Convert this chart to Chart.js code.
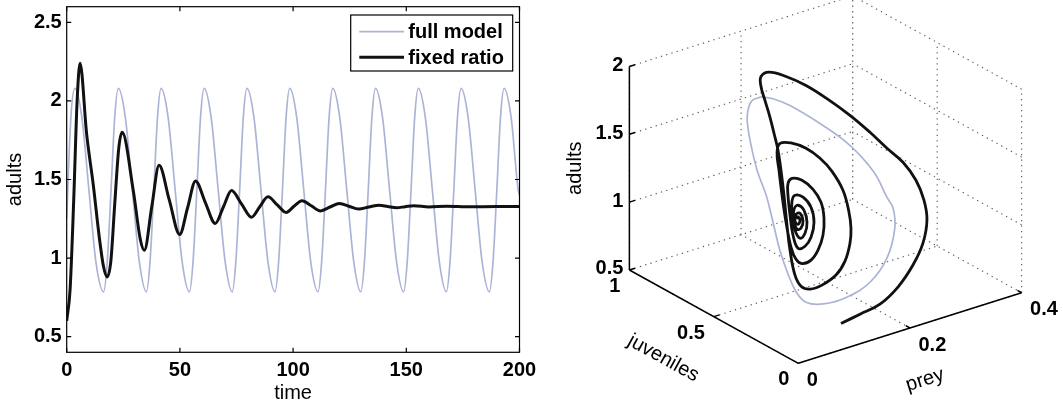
<!DOCTYPE html>
<html>
<head>
<meta charset="utf-8">
<script src="https://cdn.jsdelivr.net/npm/chart.js@4.4.1/dist/chart.umd.min.js"></script>
<style>
  html, body { margin: 0; padding: 0; background: #fff; }
  #wrap { position: relative; width: 1063px; height: 407px; overflow: hidden; }
  canvas { position: absolute; top: 0; }
  #timeChart { left: 0; }
  #phaseChart { left: 545px; }
</style>
</head>
<body>
<div id="wrap">
  <canvas id="timeChart" width="545" height="407"></canvas>
  <canvas id="phaseChart" width="518" height="407"></canvas>
</div>
<script>
// --- left panel: adults over time ---
const timeTicks = [0, 50, 100, 150, 200];
const adultTicks = [0.5, 1, 1.5, 2, 2.5];

const fullTime = [0, 0.9, 2.0, 3.6, 6.7, 9.8, 12.9,
  16.3, 17.9, 19.6, 21.2, 22.8, 25.9, 29.0, 32.1,
  35.2, 36.8, 38.5, 40.1, 41.7, 44.8, 47.9, 51.0,
  54.2, 55.8, 57.5, 59.1, 60.7, 63.8, 66.9, 70.0,
  73.1, 74.7, 76.4, 78.0, 79.6, 82.7, 85.8, 88.9,
  92.0, 93.6, 95.3, 96.9, 98.5, 101.6, 104.7, 107.8,
  111.0, 112.6, 114.3, 115.9, 117.5, 120.6, 123.7, 126.8,
  129.9, 131.5, 133.2, 134.8, 136.4, 139.5, 142.6, 145.7,
  148.8, 150.4, 152.1, 153.7, 155.3, 158.4, 161.5, 164.6,
  167.7, 169.3, 171.0, 172.6, 174.2, 177.3, 180.4, 183.5,
  186.7, 188.3, 190.0, 191.6, 193.2, 196.3, 199.4, 200];
const fullAdults = [1.25, 1.60, 1.93, 2.08, 1.895, 1.435, 0.975,
  0.785, 0.975, 1.435, 1.895, 2.08, 1.895, 1.435, 0.975,
  0.785, 0.975, 1.435, 1.895, 2.08, 1.895, 1.435, 0.975,
  0.785, 0.975, 1.435, 1.895, 2.08, 1.895, 1.435, 0.975,
  0.785, 0.975, 1.435, 1.895, 2.08, 1.895, 1.435, 0.975,
  0.785, 0.975, 1.435, 1.895, 2.08, 1.895, 1.435, 0.975,
  0.785, 0.975, 1.435, 1.895, 2.08, 1.895, 1.435, 0.975,
  0.785, 0.975, 1.435, 1.895, 2.08, 1.895, 1.435, 0.975,
  0.785, 0.975, 1.435, 1.895, 2.08, 1.895, 1.435, 0.975,
  0.785, 0.975, 1.435, 1.895, 2.08, 1.895, 1.435, 0.975,
  0.785, 0.975, 1.435, 1.895, 2.08, 1.895, 1.435, 1.40];

const fixedTime = [0, 1.5, 3.1, 4.6, 5.9, 8.8, 11.7, 14.5, 16.2, 17.9,
  19.5, 21.2, 23.0, 24.5, 29.4, 32.5, 34.3, 37.6, 40.8, 45.3,
  49.9, 53.4, 56.9, 61.2, 65.6, 69.2, 72.8, 77.2, 81.6, 85.2,
  88.9, 92.9, 96.9, 100.4, 103.9, 108.0, 112.1, 116.3, 120.5, 124.7,
  128.9, 133.5, 138.0, 141.8, 145.7, 149.5, 153.3, 160, 168, 178, 190, 200];
const fixedAdults = [0.60, 0.80, 1.37, 2.00, 2.24, 1.79, 1.47, 1.12, 0.95, 0.88,
  0.98, 1.34, 1.70, 1.80, 1.43, 1.12, 1.05, 1.33, 1.59, 1.37,
  1.15, 1.32, 1.49, 1.355, 1.22, 1.325, 1.43, 1.345, 1.26, 1.325,
  1.39, 1.34, 1.29, 1.33, 1.365, 1.333, 1.30, 1.325, 1.348, 1.33,
  1.312, 1.325, 1.336, 1.328, 1.32, 1.327, 1.333, 1.325, 1.33, 1.326, 1.328, 1.328];

// --- right panel: phase space (prey, juveniles, adults) ---
const preyTicks = [0, 0.2, 0.4];
const juvTicks = [0, 0.5, 1];
const adultTicks3d = [0.5, 1, 1.5, 2];

const cyclePrey = [0.065, 0.067, 0.078, 0.092, 0.105, 0.109, 0.109, 0.100, 0.088, 0.072, 0.056, 0.053,
  0.075, 0.111, 0.150, 0.180, 0.197, 0.200, 0.195, 0.184, 0.159, 0.129, 0.094, 0.077, 0.065];
const cycleJuv = [0.44, 0.50, 0.56, 0.60, 0.62, 0.60, 0.55, 0.48, 0.40, 0.30, 0.20, 0.13,
  0.10, 0.08, 0.07, 0.07, 0.08, 0.10, 0.12, 0.16, 0.22, 0.28, 0.36, 0.41, 0.44];
const cycleAdults = [2.076, 1.999, 1.840, 1.684, 1.505, 1.351, 1.217, 1.078, 0.943, 0.863, 0.821, 0.792,
  0.771, 0.788, 0.856, 0.993, 1.184, 1.315, 1.388, 1.559, 1.748, 1.893, 2.031, 2.070, 2.076];

const trajPrey = [0.1025, 0.1317, 0.1644, 0.1936, 0.2205, 0.2384, 0.2486, 0.2493, 0.241, 0.2238,
  0.2012, 0.1798, 0.1561, 0.1319, 0.1106, 0.093, 0.0807, 0.0845, 0.0996, 0.1219,
  0.14, 0.1502, 0.1513, 0.1445, 0.1317, 0.1129, 0.088, 0.0697, 0.0563, 0.0573,
  0.0727, 0.0917, 0.1078, 0.1198, 0.1246, 0.1271, 0.1254, 0.1178, 0.1085, 0.0985,
  0.0807, 0.0762, 0.089, 0.1046, 0.104, 0.093, 0.0717, 0.0564, 0.055, 0.0591,
  0.0686, 0.0805, 0.0884, 0.0921, 0.0899, 0.0762, 0.0704, 0.0784, 0.0844, 0.082,
  0.0692, 0.057, 0.0574, 0.0621, 0.0705, 0.0742, 0.072, 0.0697, 0.0734, 0.0734,
  0.0667, 0.0605, 0.0604, 0.064, 0.0677, 0.0691, 0.068, 0.0649, 0.0612, 0.0623,
  0.0659, 0.0666, 0.0655, 0.0607, 0.060, 0.0636, 0.063, 0.0621];
const trajJuv = [0.086, 0.07, 0.06, 0.05, 0.05, 0.05, 0.06, 0.08, 0.10, 0.12,
  0.14, 0.17, 0.21, 0.26, 0.32, 0.38, 0.44, 0.50, 0.55, 0.60,
  0.63, 0.64, 0.62, 0.58, 0.52, 0.44, 0.34, 0.25, 0.17, 0.12,
  0.10, 0.08, 0.08, 0.09, 0.10, 0.12, 0.15, 0.19, 0.23, 0.28,
  0.31, 0.36, 0.42, 0.46, 0.44, 0.38, 0.28, 0.20, 0.16, 0.12,
  0.11, 0.12, 0.14, 0.17, 0.21, 0.23, 0.27, 0.32, 0.34, 0.32,
  0.26, 0.19, 0.15, 0.13, 0.14, 0.17, 0.21, 0.25, 0.28, 0.28,
  0.24, 0.19, 0.16, 0.16, 0.19, 0.23, 0.25, 0.24, 0.21, 0.19,
  0.19, 0.21, 0.23, 0.22, 0.20, 0.20, 0.21, 0.21];
const trajAdults = [0.600, 0.643, 0.681, 0.776, 0.903, 1.041, 1.191, 1.323, 1.467, 1.608,
  1.727, 1.852, 1.980, 2.095, 2.184, 2.232, 2.239, 2.160, 2.032, 1.865,
  1.696, 1.558, 1.445, 1.334, 1.208, 1.067, 0.985, 0.887, 0.878, 0.890,
  0.913, 0.976, 1.058, 1.168, 1.265, 1.366, 1.509, 1.631, 1.712, 1.764,
  1.806, 1.774, 1.650, 1.469, 1.300, 1.157, 1.069, 1.056, 1.053, 1.101,
  1.169, 1.257, 1.358, 1.450, 1.521, 1.592, 1.586, 1.504, 1.394, 1.264,
  1.175, 1.143, 1.185, 1.259, 1.352, 1.437, 1.486, 1.476, 1.406, 1.303,
  1.229, 1.213, 1.270, 1.347, 1.409, 1.417, 1.375, 1.305, 1.264, 1.284,
  1.331, 1.375, 1.355, 1.317, 1.309, 1.334, 1.354, 1.337];

const FONT = "'Liberation Sans', Arial, Helvetica, sans-serif";
const fullColor = 'rgb(172,180,214)';
const fixedColor = '#111';

// box with inward ticks on all four sides, like the original
const boxPlugin = {
  id: 'boxTicks',
  afterDraw(chart) {
    const { ctx, chartArea: a, scales } = chart;
    const tl = 4.5;
    ctx.save();
    ctx.strokeStyle = '#000';
    ctx.lineWidth = 1.2;
    ctx.strokeRect(a.left, a.top, a.right - a.left, a.bottom - a.top);
    ctx.beginPath();
    timeTicks.forEach(t => {
      const x = scales.x.getPixelForValue(t);
      ctx.moveTo(x, a.bottom); ctx.lineTo(x, a.bottom - tl);
      ctx.moveTo(x, a.top); ctx.lineTo(x, a.top + tl);
    });
    adultTicks.forEach(v => {
      const y = scales.y.getPixelForValue(v);
      ctx.moveTo(a.left, y); ctx.lineTo(a.left + tl, y);
      ctx.moveTo(a.right, y); ctx.lineTo(a.right - tl, y);
    });
    ctx.stroke();
    ctx.restore();
  }
};

// boxed legend in the upper right corner
const legendPlugin = {
  id: 'boxLegend',
  afterDraw(chart) {
    const { ctx, chartArea: a } = chart;
    const w = 162, h = 56;
    const x0 = a.right - 6.8 - w, y0 = a.top + 8.3;
    ctx.save();
    ctx.fillStyle = '#fff';
    ctx.fillRect(x0, y0, w, h);
    ctx.strokeStyle = '#000';
    ctx.lineWidth = 1.2;
    ctx.strokeRect(x0, y0, w, h);
    ctx.font = 'bold 20px ' + FONT;
    ctx.textBaseline = 'middle';
    chart.data.datasets.forEach((ds, i) => {
      const y = y0 + 16.7 + i * 25.6;
      ctx.strokeStyle = ds.borderColor;
      ctx.lineWidth = ds.borderWidth;
      ctx.beginPath();
      ctx.moveTo(x0 + 8.6, y);
      ctx.lineTo(x0 + 53.3, y);
      ctx.stroke();
      ctx.fillStyle = '#000';
      ctx.fillText(ds.label, x0 + 57.6, y + 1);
    });
    ctx.restore();
  }
};

new Chart(document.getElementById('timeChart'), {
  type: 'line',
  data: {
    datasets: [
      {
        label: 'full model',
        data: fullTime.map((t, i) => ({ x: t, y: fullAdults[i] })),
        borderColor: fullColor, borderWidth: 1.7,
        pointRadius: 0, cubicInterpolationMode: 'monotone', order: 2
      },
      {
        label: 'fixed ratio',
        data: fixedTime.map((t, i) => ({ x: t, y: fixedAdults[i] })),
        borderColor: fixedColor, borderWidth: 3,
        pointRadius: 0, cubicInterpolationMode: 'monotone', order: 1
      }
    ]
  },
  options: {
    responsive: false,
    animation: false,
    layout: { padding: { left: 0, top: 6.7, right: 25.5, bottom: 0 } },
    plugins: { legend: { display: false }, tooltip: { enabled: false } },
    scales: {
      x: {
        type: 'linear', min: 0, max: 200,
        grid: { display: false, drawTicks: false },
        border: { display: false },
        afterBuildTicks: s => { s.ticks = timeTicks.map(v => ({ value: v })); },
        afterFit: s => { s.height = 54.7; s.paddingLeft = 0; s.paddingRight = 0; },
        ticks: {
          color: '#000', padding: 6, maxRotation: 0, autoSkip: false,
          font: { family: FONT, size: 20, weight: 'bold' },
          callback: v => String(v)
        },
        title: {
          display: true, text: 'time', color: '#000',
          font: { family: FONT, size: 20 }, padding: { top: 0, bottom: 2 }
        }
      },
      y: {
        type: 'linear', min: 0.4, max: 2.6,
        grid: { display: false, drawTicks: false },
        border: { display: false },
        afterBuildTicks: s => { s.ticks = adultTicks.map(v => ({ value: v })); },
        afterFit: s => { s.width = 66.7; s.paddingTop = 0; s.paddingBottom = 0; },
        ticks: {
          color: '#000', padding: 5, autoSkip: false,
          font: { family: FONT, size: 20, weight: 'bold' },
          callback: v => String(v)
        },
        title: {
          display: true, text: 'adults', color: '#000',
          font: { family: FONT, size: 20 }, padding: { top: 3.5, bottom: 0 }
        }
      }
    }
  },
  plugins: [boxPlugin, legendPlugin]
});

// orthographic view of the 3-D box (page pixel coordinates)
const view = { az: 37.1, el: 24.7, size: 280, zAspect: 0.8, originX: 798.3, originY: 363.3 };
const preyRange = [0, 0.4], juvRange = [0, 1], adultRange = [0.5, 2];

function project(prey, juv, adult) {
  const u = (prey - preyRange[0]) / (preyRange[1] - preyRange[0]);
  const v = (juv - juvRange[0]) / (juvRange[1] - juvRange[0]);
  const w = (adult - adultRange[0]) / (adultRange[1] - adultRange[0]);
  const az = view.az * Math.PI / 180, el = view.el * Math.PI / 180;
  return {
    x: view.originX + view.size * (u * Math.cos(az) - v * Math.sin(az)),
    y: view.originY - view.size * ((u * Math.sin(az) + v * Math.cos(az)) * Math.sin(el)
        + w * view.zAspect * Math.cos(el))
  };
}

function px(chart, p) {
  return { x: chart.scales.x.getPixelForValue(p.x), y: chart.scales.y.getPixelForValue(p.y) };
}

function seg(ctx, chart, a, b) {
  const p = px(chart, project(...a)), q = px(chart, project(...b));
  ctx.moveTo(p.x, p.y);
  ctx.lineTo(q.x, q.y);
}

const [p0, p1] = preyRange, [j0, j1] = juvRange, [a0, a1] = adultRange;

const gridPlugin = {
  id: 'grid3d',
  beforeDatasetsDraw(chart) {
    const ctx = chart.ctx;
    ctx.save();
    ctx.strokeStyle = '#555';
    ctx.lineWidth = 1.1;
    ctx.setLineDash([1.3, 4.2]);
    ctx.beginPath();
    preyTicks.forEach(p => { seg(ctx, chart, [p, j0, a0], [p, j1, a0]); seg(ctx, chart, [p, j1, a0], [p, j1, a1]); });
    juvTicks.forEach(j => { seg(ctx, chart, [p0, j, a0], [p1, j, a0]); seg(ctx, chart, [p1, j, a0], [p1, j, a1]); });
    adultTicks3d.forEach(a => { seg(ctx, chart, [p0, j1, a], [p1, j1, a]); seg(ctx, chart, [p1, j0, a], [p1, j1, a]); });
    ctx.stroke();
    ctx.restore();
  }
};

function label(ctx, chart, pt, text, dx, dy, align, font, angle) {
  const p = px(chart, pt);
  ctx.save();
  ctx.translate(p.x + dx, p.y + dy);
  if (angle) ctx.rotate(angle);
  ctx.font = font;
  ctx.textAlign = align;
  ctx.textBaseline = 'middle';
  ctx.fillStyle = '#000';
  ctx.fillText(text, 0, 0);
  ctx.restore();
}

const axesPlugin = {
  id: 'axes3d',
  afterDatasetsDraw(chart) {
    const ctx = chart.ctx;
    const tickFont = 'bold 20px ' + FONT, titleFont = '20px ' + FONT;
    ctx.save();
    ctx.strokeStyle = '#000';
    ctx.lineWidth = 1.5;
    ctx.beginPath();
    seg(ctx, chart, [p0, j1, a0], [p0, j1, a1]);
    seg(ctx, chart, [p0, j0, a0], [p0, j1, a0]);
    seg(ctx, chart, [p0, j0, a0], [p1, j0, a0]);
    adultTicks3d.forEach(a => seg(ctx, chart, [p0, j1, a], [p0 + 0.01, j1, a]));
    juvTicks.forEach(j => seg(ctx, chart, [p0, j, a0], [p0 + 0.01, j, a0]));
    preyTicks.forEach(p => seg(ctx, chart, [p, j0, a0], [p, j0 + 0.025, a0]));
    ctx.stroke();
    ctx.restore();

    adultTicks3d.forEach(a => label(ctx, chart, project(p0, j1, a), String(a), -6, -1, 'right', tickFont));
    juvTicks.forEach(j => label(ctx, chart, project(p0, j, a0), String(j), -9, 16.5, 'right', tickFont));
    preyTicks.forEach(p => label(ctx, chart, project(p, j0, a0), String(p), 8.5, 17, 'left', tickFont));

    const jA = project(p0, j1, a0), jB = project(p0, j0, a0);
    const pA = project(p0, j0, a0), pB = project(p1, j0, a0);
    const jAngle = Math.atan2(jB.y - jA.y, jB.x - jA.x);
    const pAngle = Math.atan2(pB.y - pA.y, pB.x - pA.x);
    label(ctx, chart, project(p0, j1, (a0 + a1) / 2), 'adults', -54.4, 0, 'center', titleFont, -Math.PI / 2);
    label(ctx, chart, project(p0, (j0 + j1) / 2, a0), 'juveniles', -50.6, 41.6, 'center', titleFont, jAngle);
    label(ctx, chart, project((p0 + p1) / 2, j0, a0), 'prey', 15, 52, 'center', titleFont, pAngle);
  }
};

new Chart(document.getElementById('phaseChart'), {
  type: 'scatter',
  data: {
    datasets: [
      {
        label: 'full model',
        data: cyclePrey.map((p, i) => project(p, cycleJuv[i], cycleAdults[i])),
        borderColor: fullColor, borderWidth: 1.7, showLine: true,
        pointRadius: 0, tension: 0.4, order: 2
      },
      {
        label: 'fixed ratio',
        data: trajPrey.map((p, i) => project(p, trajJuv[i], trajAdults[i])),
        borderColor: fixedColor, borderWidth: 2.8, showLine: true,
        pointRadius: 0, tension: 0.4, order: 1
      }
    ]
  },
  options: {
    responsive: false,
    animation: false,
    layout: { padding: 0 },
    plugins: { legend: { display: false }, tooltip: { enabled: false } },
    scales: {
      x: { type: 'linear', min: 545, max: 1063, display: false },
      y: { type: 'linear', min: 0, max: 407, reverse: true, display: false }
    }
  },
  plugins: [gridPlugin, axesPlugin]
});
</script>
</body>
</html>
